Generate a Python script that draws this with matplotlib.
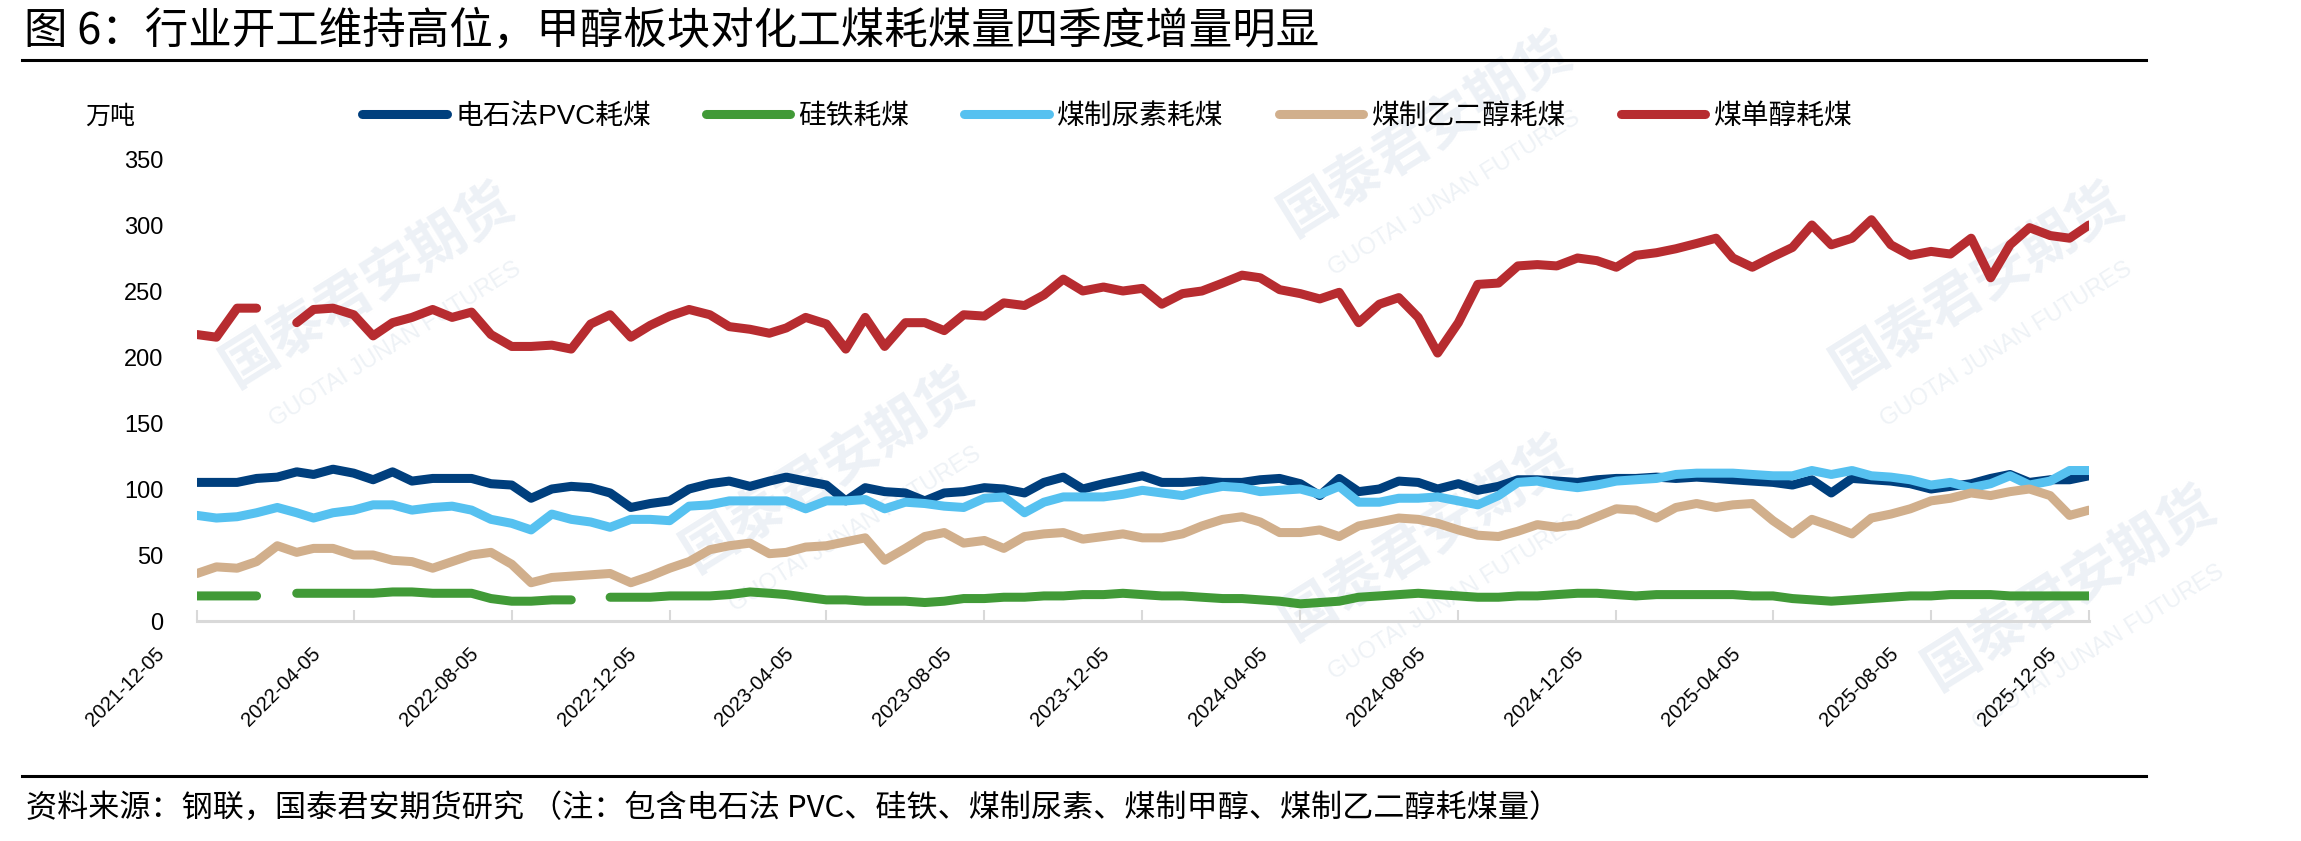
import numpy as np
import pandas as pd
import matplotlib
matplotlib.use('Agg')
import matplotlib.pyplot as plt
from matplotlib.transforms import offset_copy

plt.rcParams['font.family'] = ['Liberation Sans', 'Noto Sans CJK SC', 'DejaVu Sans']

# half-month sampling: the 5th and 20th of each month, 2021-12-05 .. 2025-12-05
months = [(2021, 12)] + [(y, m) for y in range(2022, 2026) for m in range(1, 13)]
dates = pd.to_datetime([f'{y}-{m:02d}-{d:02d}' for y, m in months for d in (5, 20)][:97])

names = ['电石法PVC耗煤', '硅铁耗煤', '煤制尿素耗煤', '煤制乙二醇耗煤', '煤单醇耗煤']
colors = ['#003f7d', '#419a37', '#56c1f0', '#d1af8c', '#b72c30']

pvc = [105, 105, 105, 108, 109, 113, 111, 115, 112, 107, 113, 106, 108, 108, 108, 104,
       103, 93, 100, 102, 101, 97, 86, 89, 91, 100, 104, 106, 102, 106, 109, 106,
       103, 91, 101, 98, 97, 91, 97, 98, 101, 100, 97, 105, 109, 100, 104, 107,
       110, 105, 105, 106, 105, 105, 107, 108, 104, 95, 108, 98, 100, 106, 105, 100,
       104, 99, 102, 107, 107, 106, 105, 107, 108, 108, 109, 108, 109, 108, 107, 106,
       105, 103, 107, 97, 108, 107, 106, 104, 100, 102, 104, 108, 111, 105, 107, 107,
       110]
fesi = [19, 19, 19, 19, np.nan, 21, 21, 21, 21, 21, 22, 22, 21, 21, 21, 17,
        15, 15, 16, 16, np.nan, 18, 18, 18, 19, 19, 19, 20, 22, 21, 20, 18,
        16, 16, 15, 15, 15, 14, 15, 17, 17, 18, 18, 19, 19, 20, 20, 21,
        20, 19, 19, 18, 17, 17, 16, 15, 13, 14, 15, 18, 19, 20, 21, 20,
        19, 18, 18, 19, 19, 20, 21, 21, 20, 19, 20, 20, 20, 20, 20, 19,
        19, 17, 16, 15, 16, 17, 18, 19, 19, 20, 20, 20, 19, 19, 19, 19,
        19]
urea = [80, 78, 79, 82, 86, 82, 78, 82, 84, 88, 88, 84, 86, 87, 84, 77,
        74, 69, 81, 77, 75, 71, 77, 77, 76, 87, 88, 91, 91, 91, 91, 85,
        91, 91, 92, 85, 90, 89, 87, 86, 93, 94, 82, 90, 94, 94, 94, 96,
        99, 97, 95, 99, 102, 101, 98, 99, 100, 96, 102, 90, 90, 93, 93, 94,
        91, 88, 95, 105, 106, 103, 101, 103, 106, 107, 108, 111, 112, 112, 112, 111,
        110, 110, 114, 111, 114, 110, 109, 107, 103, 105, 101, 104, 110, 103, 106, 114,
        114]
eg = [36, 41, 40, 45, 57, 52, 55, 55, 50, 50, 46, 45, 40, 45, 50, 52,
      43, 29, 33, 34, 35, 36, 29, 34, 40, 45, 54, 57, 59, 51, 52, 56,
      57, 60, 63, 46, 55, 64, 67, 59, 61, 55, 64, 66, 67, 62, 64, 66,
      63, 63, 66, 72, 77, 79, 75, 67, 67, 69, 64, 72, 75, 78, 77, 74,
      69, 65, 64, 68, 73, 71, 73, 79, 85, 84, 78, 86, 89, 86, 88, 89,
      76, 66, 77, 72, 66, 78, 81, 85, 91, 93, 97, 95, 98, 100, 95, 80,
      84]
methanol = [217, 215, 237, 237, np.nan, 226, 236, 237, 232, 216, 226, 230, 236, 230, 234, 217,
            208, 208, 209, 206, 225, 232, 215, 224, 231, 236, 232, 223, 221, 218, 222, 230,
            225, 206, 230, 208, 226, 226, 220, 232, 231, 241, 239, 247, 259, 250, 253, 250,
            252, 240, 248, 250, 256, 262, 260, 251, 248, 244, 249, 226, 240, 245, 230, 203,
            226, 255, 256, 269, 270, 269, 275, 273, 268, 277, 279, 282, 286, 290, 275, 268,
            276, 283, 300, 285, 290, 304, 285, 277, 280, 278, 290, 260, 285, 298, 292, 290,
            300]
series = [pvc, fesi, urea, eg, methanol]

yticks = [0, 50, 100, 150, 200, 250, 300, 350]
xticks = pd.date_range('2021-12-01', '2025-12-01', freq='4MS') + pd.Timedelta(days=4)

W, H = 2301, 841
fig = plt.figure(figsize=(W / 100, H / 100), dpi=100)

# faint company watermarks behind the chart
wm_spots = [(0.16, 0.66), (0.36, 0.44), (0.62, 0.84), (0.62, 0.36), (0.86, 0.66), (0.90, 0.30)]
for wx, wy in wm_spots:
    fig.text(wx, wy, '国泰君安期货', fontsize=40, color='#edf1f6', rotation=32,
             ha='center', va='center', family=['Noto Sans CJK SC'], weight='bold', zorder=-2)
    fig.text(wx + 0.012, wy - 0.07, 'GUOTAI JUNAN FUTURES', fontsize=17, color='#eef2f6',
             rotation=32, ha='center', va='center', zorder=-2)

ax = fig.add_axes([197 / W, 1 - 621 / H, (2089 - 197) / W, (621 - 159) / H])
ax.set_facecolor('none')

for vals, name, c in zip(series, names, colors):
    ax.plot(dates, vals, color=c, lw=6.5, label=name, solid_capstyle='round',
            solid_joinstyle='round')

ax.set_xlim(pd.Timestamp('2021-12-05'), pd.Timestamp('2025-12-05'))
ax.set_ylim(0, 350)
ax.set_yticks(yticks)
ax.set_xticks(xticks)
ax.set_xticklabels([])
# rotated date labels sit a little left of and below their tick, as in the source chart
lab_trans = offset_copy(ax.get_xaxis_transform(), fig=fig, x=-36, y=-30, units='dots')
for d in xticks:
    ax.text(d, 0, d.strftime('%Y-%m-%d'), transform=lab_trans, rotation=45,
            ha='right', va='center', rotation_mode='anchor', fontsize=14.5)
ax.tick_params(axis='y', length=0, pad=24, labelsize=17)
ax.tick_params(axis='x', direction='in', length=8, width=1.5, color='#d9d9d9')
for s in ['top', 'right', 'left']:
    ax.spines[s].set_visible(False)
ax.spines['bottom'].set_color('#d9d9d9')
ax.spines['bottom'].set_linewidth(2.2)

fig.text(85 / W, 1 - 117 / H, '万吨', fontsize=18, ha='left', va='center')
fig.legend(*ax.get_legend_handles_labels(), ncol=5, loc='center left',
           bbox_to_anchor=(362 / W, 1 - 117 / H), frameon=False, fontsize=20,
           handlelength=3.05, handletextpad=0.3, columnspacing=1.97,
           borderpad=0, borderaxespad=0)

fig.text(24 / W, 1 - 31 / H, '图 6：行业开工维持高位，甲醇板块对化工煤耗煤量四季度增量明显',
         fontsize=31.3, ha='left', va='center', family=['Noto Sans CJK SC'])
fig.add_artist(plt.Line2D([22 / W, 2146 / W], [1 - 60 / H, 1 - 60 / H], color='black', lw=2.2))
fig.add_artist(plt.Line2D([22 / W, 2146 / W], [1 - 776 / H, 1 - 776 / H], color='black', lw=2.2))
fig.text(26 / W, 1 - 808 / H,
         '资料来源：钢联，国泰君安期货研究 （注：包含电石法 PVC、硅铁、煤制尿素、煤制甲醇、煤制乙二醇耗煤量）',
         fontsize=22.4, ha='left', va='center', family=['Noto Sans CJK SC', 'Liberation Sans'])

fig.savefig('out.png', dpi=100)
